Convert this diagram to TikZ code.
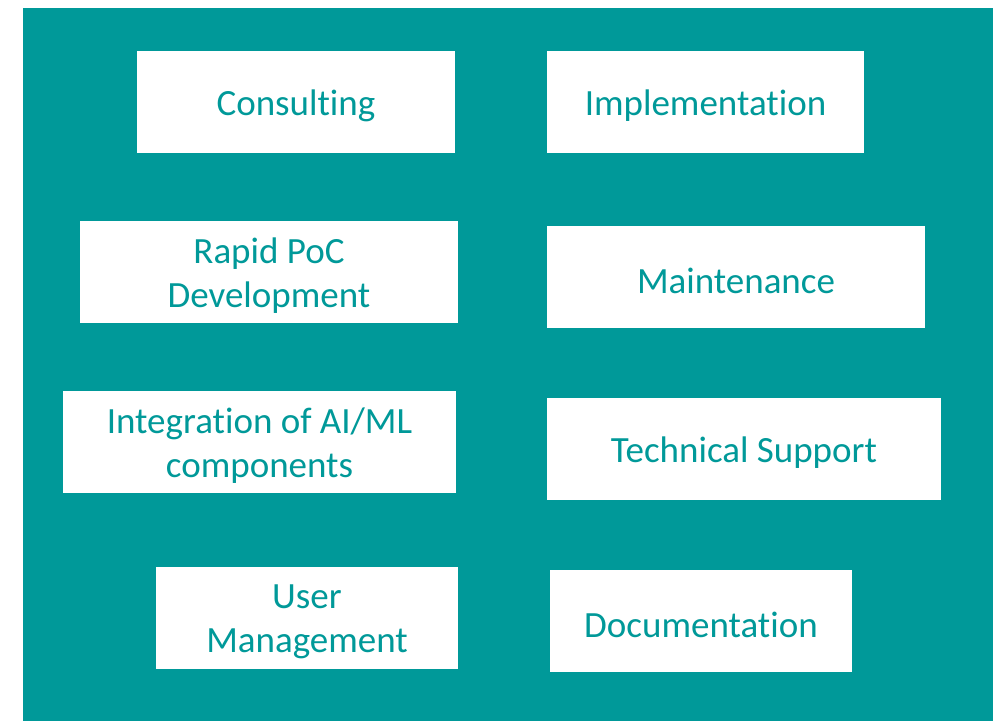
\documentclass[tikz,border=0pt]{standalone}
\usepackage{fontspec}
\setmainfont[Ligatures=NoCommon]{Carlito}
\definecolor{teal1}{RGB}{0,153,153}
\begin{document}
\begin{tikzpicture}[x=1pt,y=-1pt,
  card/.style={rectangle, fill=white, inner sep=0pt, minimum height=102pt},
  cardtext/.style={inner sep=0pt, align=center, yshift=-4pt,
    text=teal1, font=\fontsize{37}{44}\selectfont}]
\useasboundingbox (0,0) rectangle (1005,721);
\fill[teal1] (23,8) rectangle (993,721);
\node[card, minimum width=318pt] (consult) at (296,102) {};
\node[cardtext] (consultT) at (consult.center) {Consulting};
\node[card, minimum width=317pt] (impl) at (705.5,102) {};
\node[cardtext] (implT) at (impl.center) {Implementation};
\node[card, minimum width=378pt] (poc) at (269,272) {};
\node[cardtext] (pocT) at (poc.center) {Rapid PoC\\Development};
\node[card, minimum width=378pt] (maint) at (736,277) {};
\node[cardtext] (maintT) at (maint.center) {Maintenance};
\node[card, minimum width=393pt] (integ) at (259.5,442) {};
\node[cardtext] (integT) at (integ.center) {Integration of AI/ML\\components};
\node[card, minimum width=394pt] (tech) at (744,449) {};
\node[cardtext] (techT) at (tech.center) {Technical Support};
\node[card, minimum width=302pt] (user) at (307,618) {};
\node[cardtext] (userT) at (user.center) {User\\Management};
\node[card, minimum width=302pt] (doc) at (701,621) {};
\node[cardtext] (docT) at (doc.center) {Documentation};
\end{tikzpicture}
\end{document}
